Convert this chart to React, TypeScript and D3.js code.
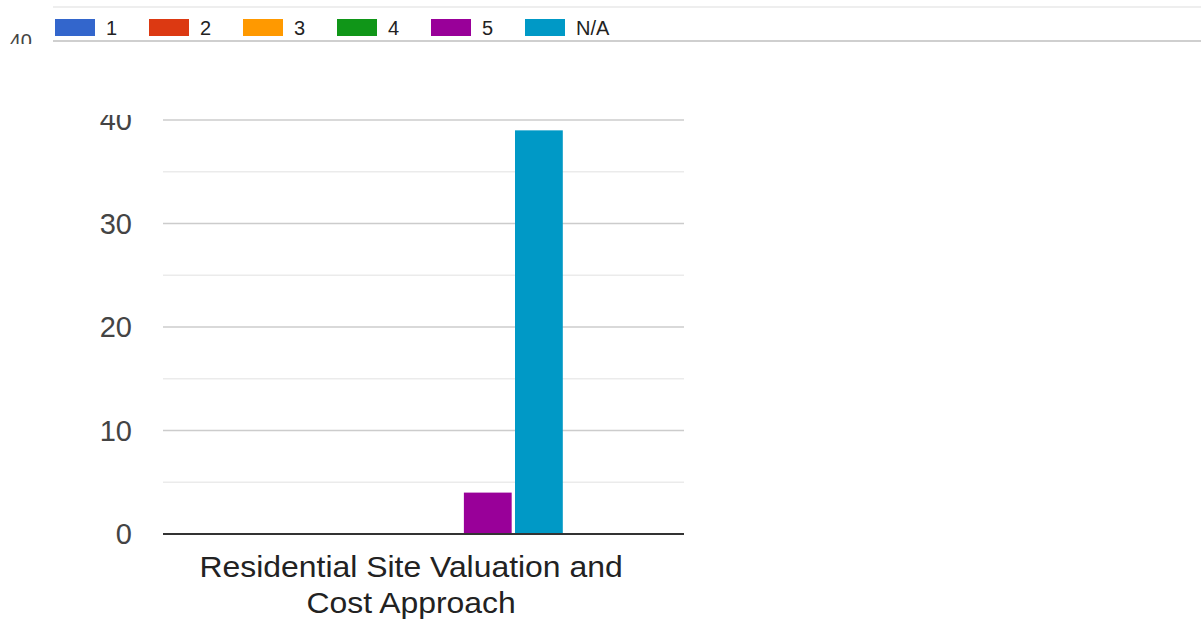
import React from "react";
import * as d3 from "d3";

const categories = ["Residential Site Valuation and Cost Approach"];
const categoryLines = [["Residential Site Valuation and", "Cost Approach"]];
const seriesNames = ["1", "2", "3", "4", "5", "N/A"];
const seriesValues = [[0, 0, 0, 0, 4, 39]];
const seriesColors = ["#3366cc", "#dc3912", "#ff9900", "#109618", "#990099", "#0099c6"];
const yTicks = [0, 10, 20, 30, 40];
const yMinorTicks = [5, 15, 25, 35];

const W = 1201;
const H = 629;
const plot = { left: 163, right: 684, top: 120, bottom: 534 };
const font = "Arial, 'Liberation Sans', sans-serif";

export default function App() {
  const y = d3.scaleLinear().domain([0, 40]).range([plot.bottom, plot.top]);

  const x0 = d3
    .scaleBand<string>()
    .domain(categories)
    .range([plot.left, plot.right])
    .paddingInner(0)
    .paddingOuter(0.3586)
    .align(0.443);

  const x1 = d3
    .scaleBand<string>()
    .domain(seriesNames)
    .range([0, x0.bandwidth()])
    .paddingInner(0.065)
    .paddingOuter(0);

  return (
    <svg
      width={W}
      height={H}
      style={{ position: "absolute", left: 0, top: 0, display: "block", background: "#fff" }}
    >
      <defs>
        <clipPath id="chartClip">
          <rect x={0} y={115} width={W} height={H - 115} />
        </clipPath>
        <clipPath id="ghostClip">
          <rect x={0} y={0} width={50} height={44} />
        </clipPath>
      </defs>

      {/* chart body, scrolled under the sticky legend */}
      <g clipPath="url(#chartClip)">
        {yMinorTicks.map((t) => (
          <line key={"m" + t} x1={plot.left} x2={plot.right} y1={y(t)} y2={y(t)} stroke="#ebebeb" strokeWidth={1.5} />
        ))}
        {yTicks.filter((t) => t !== 0).map((t) => (
          <line key={"g" + t} x1={plot.left} x2={plot.right} y1={y(t)} y2={y(t)} stroke="#cccccc" strokeWidth={1.5} />
        ))}
        {yTicks.map((t) => (
          <text
            key={"t" + t}
            x={132}
            y={y(t)}
            dy="0.36em"
            textAnchor="end"
            fontFamily={font}
            fontSize={29}
            fill="#444"
          >
            {t}
          </text>
        ))}

        {categories.map((c, ci) => (
          <g key={c} transform={`translate(${x0(c)},0)`}>
            {seriesNames.map((s, si) => {
              const v = seriesValues[ci][si];
              if (!v) return null;
              return (
                <rect
                  key={s}
                  x={x1(s)}
                  y={y(v)}
                  width={x1.bandwidth()}
                  height={y(0) - y(v)}
                  fill={seriesColors[si]}
                />
              );
            })}
          </g>
        ))}

        <line x1={plot.left} x2={plot.right} y1={y(0)} y2={y(0)} stroke="#333" strokeWidth={2} />

        {categories.map((c, ci) => {
          const cx = (x0(c) ?? 0) + x0.bandwidth() / 2;
          return (
            <text
              key={"x" + c}
              transform={`translate(${cx},0) scale(1.1,1)`}
              x={0}
              y={577}
              textAnchor="middle"
              fontFamily={font}
              fontSize={29}
              fill="#222"
            >
              {categoryLines[ci].map((line, li) => (
                <tspan key={li} x={0} dy={li === 0 ? 0 : 36}>
                  {line}
                </tspan>
              ))}
            </text>
          );
        })}
      </g>

      {/* leftover tick label above the legend */}
      <g clipPath="url(#ghostClip)">
        <text x={32} y={48} textAnchor="end" fontFamily={font} fontSize={20} fill="#444">
          {yTicks[yTicks.length - 1]}
        </text>
      </g>

      {/* sticky legend strip */}
      <line x1={53} x2={W} y1={7} y2={7} stroke="#eeeeee" strokeWidth={2} />
      <line x1={53} x2={W} y1={41} y2={41} stroke="#cfcfcf" strokeWidth={2} />
      {seriesNames.map((s, i) => {
        const lx = 55 + i * 94;
        return (
          <g key={"l" + s}>
            <rect x={lx} y={19} width={40} height={17} fill={seriesColors[i]} />
            <text x={lx + 51} y={34.5} fontFamily={font} fontSize={20} fill="#222">
              {s}
            </text>
          </g>
        );
      })}
    </svg>
  );
}
